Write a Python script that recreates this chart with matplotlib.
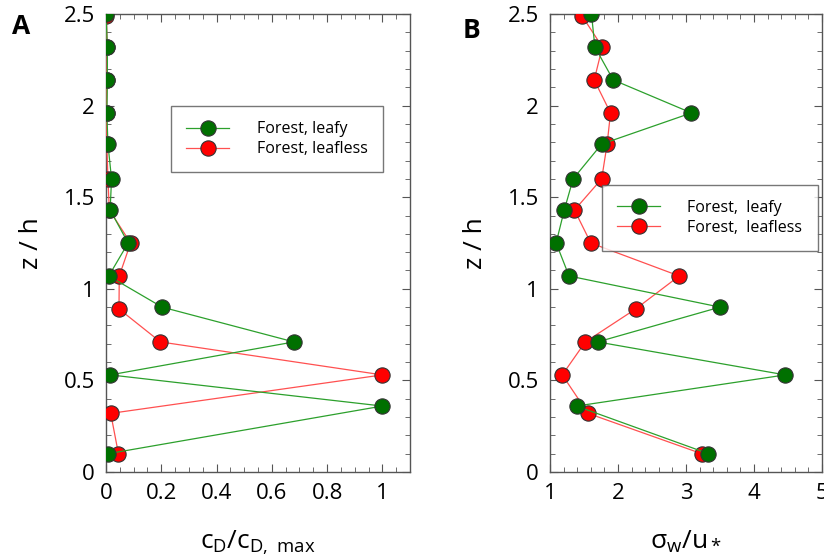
import numpy as np
import matplotlib.pyplot as plt
from matplotlib.ticker import MultipleLocator

plt.rcParams['font.family'] = ['Open Sans', 'DejaVu Sans']
plt.rcParams['mathtext.fontset'] = 'custom'
plt.rcParams['mathtext.rm'] = 'Open Sans'
plt.rcParams['mathtext.it'] = 'Open Sans'

# heights z/h
z_leafy = [0.10, 0.36, 0.53, 0.71, 0.90, 1.07, 1.25, 1.43, 1.60, 1.79, 1.96, 2.14, 2.32, 2.50]
z_leafless = [0.10, 0.32, 0.53, 0.71, 0.89, 1.07, 1.25, 1.43, 1.60, 1.79, 1.96, 2.14, 2.32, 2.49]

# panel A: normalised drag coefficient
cd_leafy = [0.008, 1.0, 0.015, 0.68, 0.203, 0.01, 0.08, 0.015, 0.02, 0.007, 0.003, 0.005, 0.005, 0.0]
cd_leafless = [0.045, 0.017, 1.0, 0.197, 0.047, 0.048, 0.089, 0.012, 0.007, 0.003, 0.002, 0.003, 0.004, 0.001]

# panel B: sigma_w / u*
sw_leafy = [3.33, 1.39, 4.46, 1.70, 3.50, 1.28, 1.09, 1.21, 1.34, 1.76, 3.08, 1.93, 1.66, 1.61]
sw_leafless = [3.23, 1.56, 1.18, 1.52, 2.26, 2.90, 1.60, 1.36, 1.76, 1.84, 1.89, 1.65, 1.77, 1.47]

green_line = '#2ca02c'
red_line = '#ff5050'
green_face = '#007000'
red_face = '#ff0000'

fig = plt.figure(figsize=(8.24, 5.59), dpi=100)
axA = fig.add_axes([106 / 824, 1 - 472 / 559, 304 / 824, 458 / 559])
axB = fig.add_axes([550 / 824, 1 - 472 / 559, 272 / 824, 458 / 559])


def style_axes(ax):
    for s in ax.spines.values():
        s.set_color('#555555')
        s.set_linewidth(1.0)
    ax.tick_params(which='both', direction='in', top=True, right=True,
                   colors='#555555', labelcolor='black', labelsize=16, pad=8)
    ax.tick_params(which='major', length=6)
    ax.tick_params(which='minor', length=3.5)
    ax.yaxis.set_major_locator(MultipleLocator(0.5))
    ax.yaxis.set_minor_locator(MultipleLocator(0.1))
    ax.set_ylim(0, 2.5)
    ax.yaxis.set_major_formatter(plt.FuncFormatter(lambda v, p: f'{v:g}'))
    ax.xaxis.set_major_formatter(plt.FuncFormatter(lambda v, p: f'{v:g}'))
    ax.set_ylabel('z / h', fontsize=19, labelpad=14)


def add_legend(ax, x, y):
    h, l = ax.get_legend_handles_labels()
    leg = ax.legend(h[::-1], l[::-1], loc='upper left', bbox_to_anchor=(x, y),
                    borderaxespad=0, fontsize=11.5, frameon=True, fancybox=False,
                    edgecolor='#555555', borderpad=0.95, handlelength=2.7,
                    handletextpad=1.7, labelspacing=0.25)
    leg.get_frame().set_linewidth(1.0)
    return leg


# panel A
axA.plot(cd_leafless, z_leafless, '-o', color=red_line, lw=0.9, ms=11,
         mfc=red_face, mec='#333333', mew=0.8, label='Forest, leafless', zorder=3)
axA.plot(cd_leafy, z_leafy, '-o', color=green_line, lw=0.9, ms=11,
         mfc=green_face, mec='#333333', mew=0.8, label='Forest, leafy', zorder=4)
axA.set_xlim(0, 1.1)
axA.xaxis.set_major_locator(MultipleLocator(0.2))
axA.xaxis.set_minor_locator(MultipleLocator(0.05))
style_axes(axA)
axA.set_xlabel(r'c$_\mathrm{D}$/c$_\mathrm{D,\ max}$', fontsize=19, labelpad=18)
add_legend(axA, 0.214, 0.799)
axA.text(-0.31, 0.972, 'A', transform=axA.transAxes, fontsize=19,
         fontweight='bold', ha='left', va='center')

# panel B
axB.plot(sw_leafless, z_leafless, '-o', color=red_line, lw=0.9, ms=11,
         mfc=red_face, mec='#333333', mew=0.8, label='Forest,  leafless', zorder=3)
axB.plot(sw_leafy, z_leafy, '-o', color=green_line, lw=0.9, ms=11,
         mfc=green_face, mec='#333333', mew=0.8, label='Forest,  leafy', zorder=4)
axB.set_xlim(1, 5)
axB.xaxis.set_major_locator(MultipleLocator(1))
axB.xaxis.set_minor_locator(MultipleLocator(0.2))
style_axes(axB)
axB.set_xlabel(r'σ$_\mathrm{w}$/u$_*$', fontsize=19, labelpad=18)
add_legend(axB, 0.191, 0.627)
axB.text(-0.32, 0.965, 'B', transform=axB.transAxes, fontsize=19,
         fontweight='bold', ha='left', va='center')

fig.savefig('out.png', dpi=100)
